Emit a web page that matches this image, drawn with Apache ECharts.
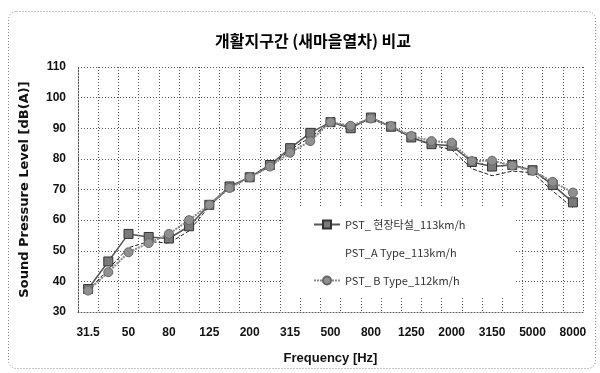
<!DOCTYPE html>
<html>
<head>
<meta charset="utf-8">
<script src="https://cdn.jsdelivr.net/npm/echarts@6/dist/echarts.min.js"></script>
<style>
    html, body { margin: 0; padding: 0; background: #fff; }
    #chart { width: 600px; height: 373px; }
</style>
</head>
<body>
<div id="chart"></div>
<script>
// 1/3 옥타브 대역 (Hz)
const categories = ['31.5', '40', '50', '63', '80', '100', '125', '160', '200', '250', '315', '400', '500',
    '630', '800', '1000', '1250', '1600', '2000', '2500', '3150', '4000', '5000', '6300', '8000']

const seriesNames = ['PST_ 현장타설_113km/h', 'PST_A Type_113km/h', 'PST_ B Type_112km/h']

const fieldCast = [37.5, 46.5, 55.5, 54.5, 54, 58, 65, 71, 74, 78, 83.5, 88.5, 92, 90, 93.5, 90.5, 87, 84.8, 84.3, 79, 77.5, 78, 76.3, 71.5, 65.8]
const typeA = [37, 44, 51, 53, 52.5, 56.5, 64.5, 70.5, 74, 77.5, 83, 87, 92, 90.5, 93, 90.5, 87, 84.5, 83, 76.8, 74.5, 76, 75.5, 69.5, 64]
const typeB = [37, 43, 49.5, 52.5, 55.5, 60, 65, 70.5, 74, 77.5, 82, 85.8, 92, 90.8, 93.2, 90.7, 87.5, 85.8, 85.3, 79.3, 79.4, 77.8, 76.1, 72.5, 69]

const yMin = 30
const yMax = 110
const yStep = 10

const chart = echarts.init(document.getElementById('chart'))

const gridDot = {
    show: true,
    lineStyle: { color: '#555', type: [1, 2], width: 1 }
}

const option = {
    animation: false,
    textStyle: { fontFamily: 'Arial, "Liberation Sans", sans-serif' },
    graphic: [
        {
            type: 'rect',
            shape: { x: 8.5, y: 11.5, width: 587, height: 357, r: 8 },
            style: { fill: 'none', stroke: '#888', lineWidth: 1, lineDash: [1, 2] },
            z: -1
        }
    ],
    title: {
        text: '개활지구간 (새마을열차) 비교',
        left: 308,
        textAlign: 'center',
        top: 28,
        textStyle: {
            fontFamily: '"Noto Sans CJK KR", sans-serif',
            fontSize: 16,
            fontWeight: 'bold',
            color: '#000'
        }
    },
    grid: {
        left: 78,
        right: 17,
        top: 67,
        bottom: 61,
        containLabel: false
    },
    legend: {
        orient: 'vertical',
        left: 285,
        top: 207,
        padding: [12, 50, 12, 28],
        backgroundColor: '#fff',
        itemWidth: 26,
        itemHeight: 10,
        itemGap: 17,
        textStyle: {
            fontFamily: '"Noto Sans CJK KR", sans-serif',
            fontSize: 11,
            color: '#333'
        },
        data: [
            { name: seriesNames[0] },
            { name: seriesNames[1], icon: 'none' },
            { name: seriesNames[2] }
        ]
    },
    xAxis: {
        type: 'category',
        boundaryGap: true,
        data: categories,
        name: 'Frequency [Hz]',
        nameLocation: 'middle',
        nameGap: 40,
        nameTextStyle: { fontSize: 13, fontWeight: 'bold', color: '#111' },
        axisLine: { show: true, lineStyle: { color: '#555', type: [1, 2] } },
        axisTick: { show: false },
        axisLabel: {
            interval: 1,
            margin: 15,
            fontSize: 12,
            fontWeight: 'bold',
            color: '#111'
        },
        splitLine: Object.assign({ interval: 0 }, gridDot)
    },
    yAxis: {
        type: 'value',
        min: yMin,
        max: yMax,
        interval: yStep,
        name: 'Sound Pressure Level [dB(A)]',
        nameLocation: 'middle',
        nameGap: 47,
        nameTextStyle: {
            fontFamily: '"DejaVu Sans", sans-serif',
            fontSize: 13,
            fontWeight: 'bold',
            color: '#111'
        },
        axisLine: { show: true, lineStyle: { color: '#555', type: [1, 2] } },
        axisTick: { show: false },
        axisLabel: {
            margin: 12,
            fontSize: 12,
            fontWeight: 'bold',
            color: '#111'
        },
        splitLine: gridDot
    },
    series: [
        {
            name: seriesNames[0],
            type: 'line',
            data: fieldCast,
            symbol: 'rect',
            symbolSize: 9,
            lineStyle: { color: '#555', width: 1.5 },
            itemStyle: { color: '#7a7a7a', borderColor: '#333', borderWidth: 1 },
            z: 3
        },
        {
            name: seriesNames[1],
            type: 'line',
            data: typeA,
            symbol: 'none',
            lineStyle: { color: '#222', width: 1, type: [4, 2] },
            itemStyle: { color: '#222' },
            z: 2
        },
        {
            name: seriesNames[2],
            type: 'line',
            data: typeB,
            symbol: 'circle',
            symbolSize: 9,
            lineStyle: { color: '#8a8a8a', width: 2, type: [2, 1] },
            itemStyle: { color: '#909090', borderColor: '#666', borderWidth: 1 },
            z: 4
        }
    ]
}

chart.setOption(option)
</script>
</body>
</html>
